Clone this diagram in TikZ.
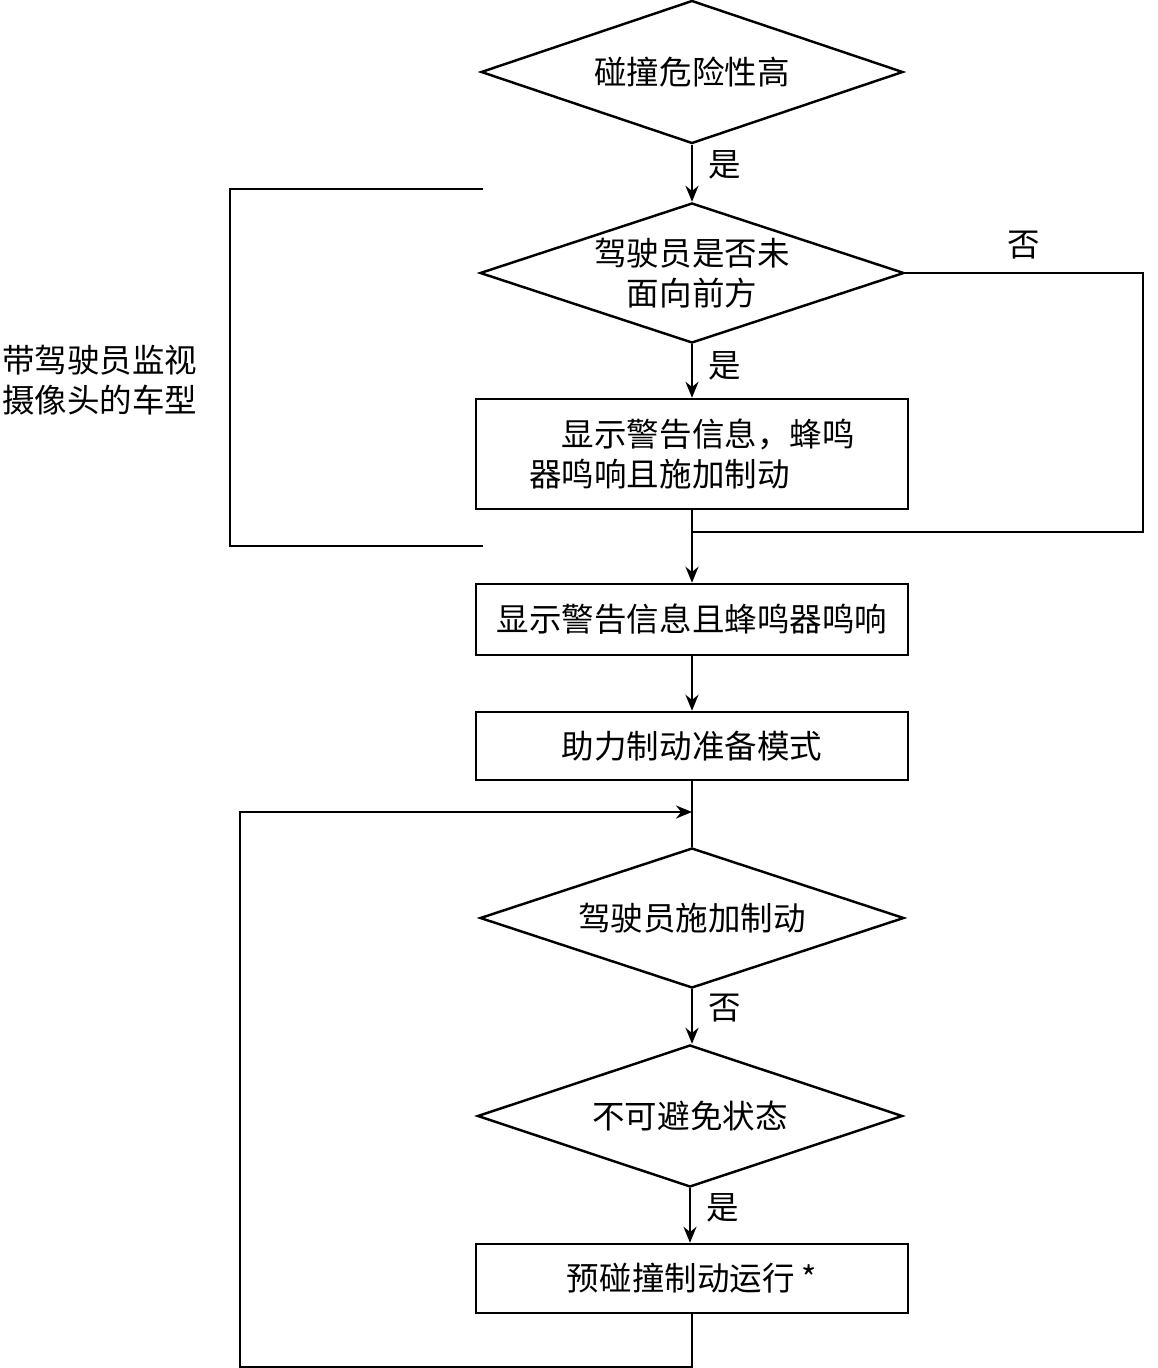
\documentclass[tikz,border=0pt]{standalone}
\usepackage{fontspec}
\setmainfont{Noto Sans CJK SC}
\usepackage{tikz}
\usetikzlibrary{arrows.meta,positioning,shapes.geometric}
\tikzset{
  box/.style={draw, rectangle, line width=1.4pt, align=center, minimum width=8.64cm, inner sep=0pt, font=\fontsize{18.5}{22.7}\selectfont},
  dbox/.style={draw, diamond, aspect=3, line width=1.4pt, align=center, minimum width=8.48cm, minimum height=2.8cm, inner sep=0pt, font=\fontsize{18.5}{22.7}\selectfont},
  arr/.style={-{Stealth[length=3.2mm,width=2.6mm]}, line width=1.4pt},
  ln/.style={line width=1.4pt},
  lbl/.style={font=\fontsize{18.5}{22.7}\selectfont, inner sep=0pt},
  capn/.style={font=\fontsize{18.5}{22.7}\selectfont, align=left, inner sep=0pt},
}
\begin{document}
\begin{tikzpicture}[x=1cm,y=1cm]
\useasboundingbox (0,0) rectangle (23.14,-27.36);
\node[dbox, minimum height=2.86cm, minimum width=8.44cm] (d1) at (13.84,-1.44) {碰撞危险性高};
\node[dbox] (d2) at (13.84,-5.46) {驾驶员是否未\\面向前方};
\node[box, minimum height=2.2cm, align=left] (b1) at (13.84,-9.08) {\hspace{1em}显示警告信息，蜂鸣\\器鸣响且施加制动};
\node[box, minimum height=1.42cm] (b2) at (13.84,-12.39) {显示警告信息且蜂鸣器鸣响};
\node[box, minimum height=1.36cm] (b3) at (13.84,-14.92) {助力制动准备模式};
\node[dbox] (d4) at (13.84,-18.36) {驾驶员施加制动};
\node[dbox, minimum height=2.84cm, minimum width=8.5cm] (d5) at (13.80,-22.32) {不可避免状态};
\node[box, minimum height=1.38cm] (b5) at (13.84,-25.57) {预碰撞制动运行 *};
\node[capn, anchor=west] (cam) at (0.04,-7.6) {带驾驶员监视\\摄像头的车型};
\coordinate (j) at (13.84,-10.64);
\coordinate (m) at (13.84,-16.24);
% main flow
\draw[arr] (d1.south) -- node[lbl, pos=0.35, right=0.3cm]{是} (d2.north);
\draw[arr] (d2.south) -- node[lbl, pos=0.4, right=0.3cm]{是} (d2.south |- b1.north);
\draw[arr] (b1.south) -- (b2.north);
\draw[arr] (b2.south) -- (b3.north);
\draw[ln] (b3.south) -- (d4.north);
\draw[arr] (d4.south) -- node[lbl, pos=0.35, right=0.3cm]{否} (d4.south |- d5.north);
\draw[arr] (d5.south) -- node[lbl, pos=0.35, right=0.3cm]{是} (d5.south |- b5.north);
% 否 branch of d2
\draw[ln] (d2.east) -- node[lbl, above=0.25cm]{否} ++(4.76,0) |- (j);
% loop back
\draw[arr] (b5.south) -- ++(0,-1.06) -| (4.80,-16.24) -- (m);
% bracket
\draw[ln] (9.66,-3.78) -- (4.60,-3.78) -- (4.60,-10.92) -- (9.66,-10.92);
\end{tikzpicture}
\end{document}
